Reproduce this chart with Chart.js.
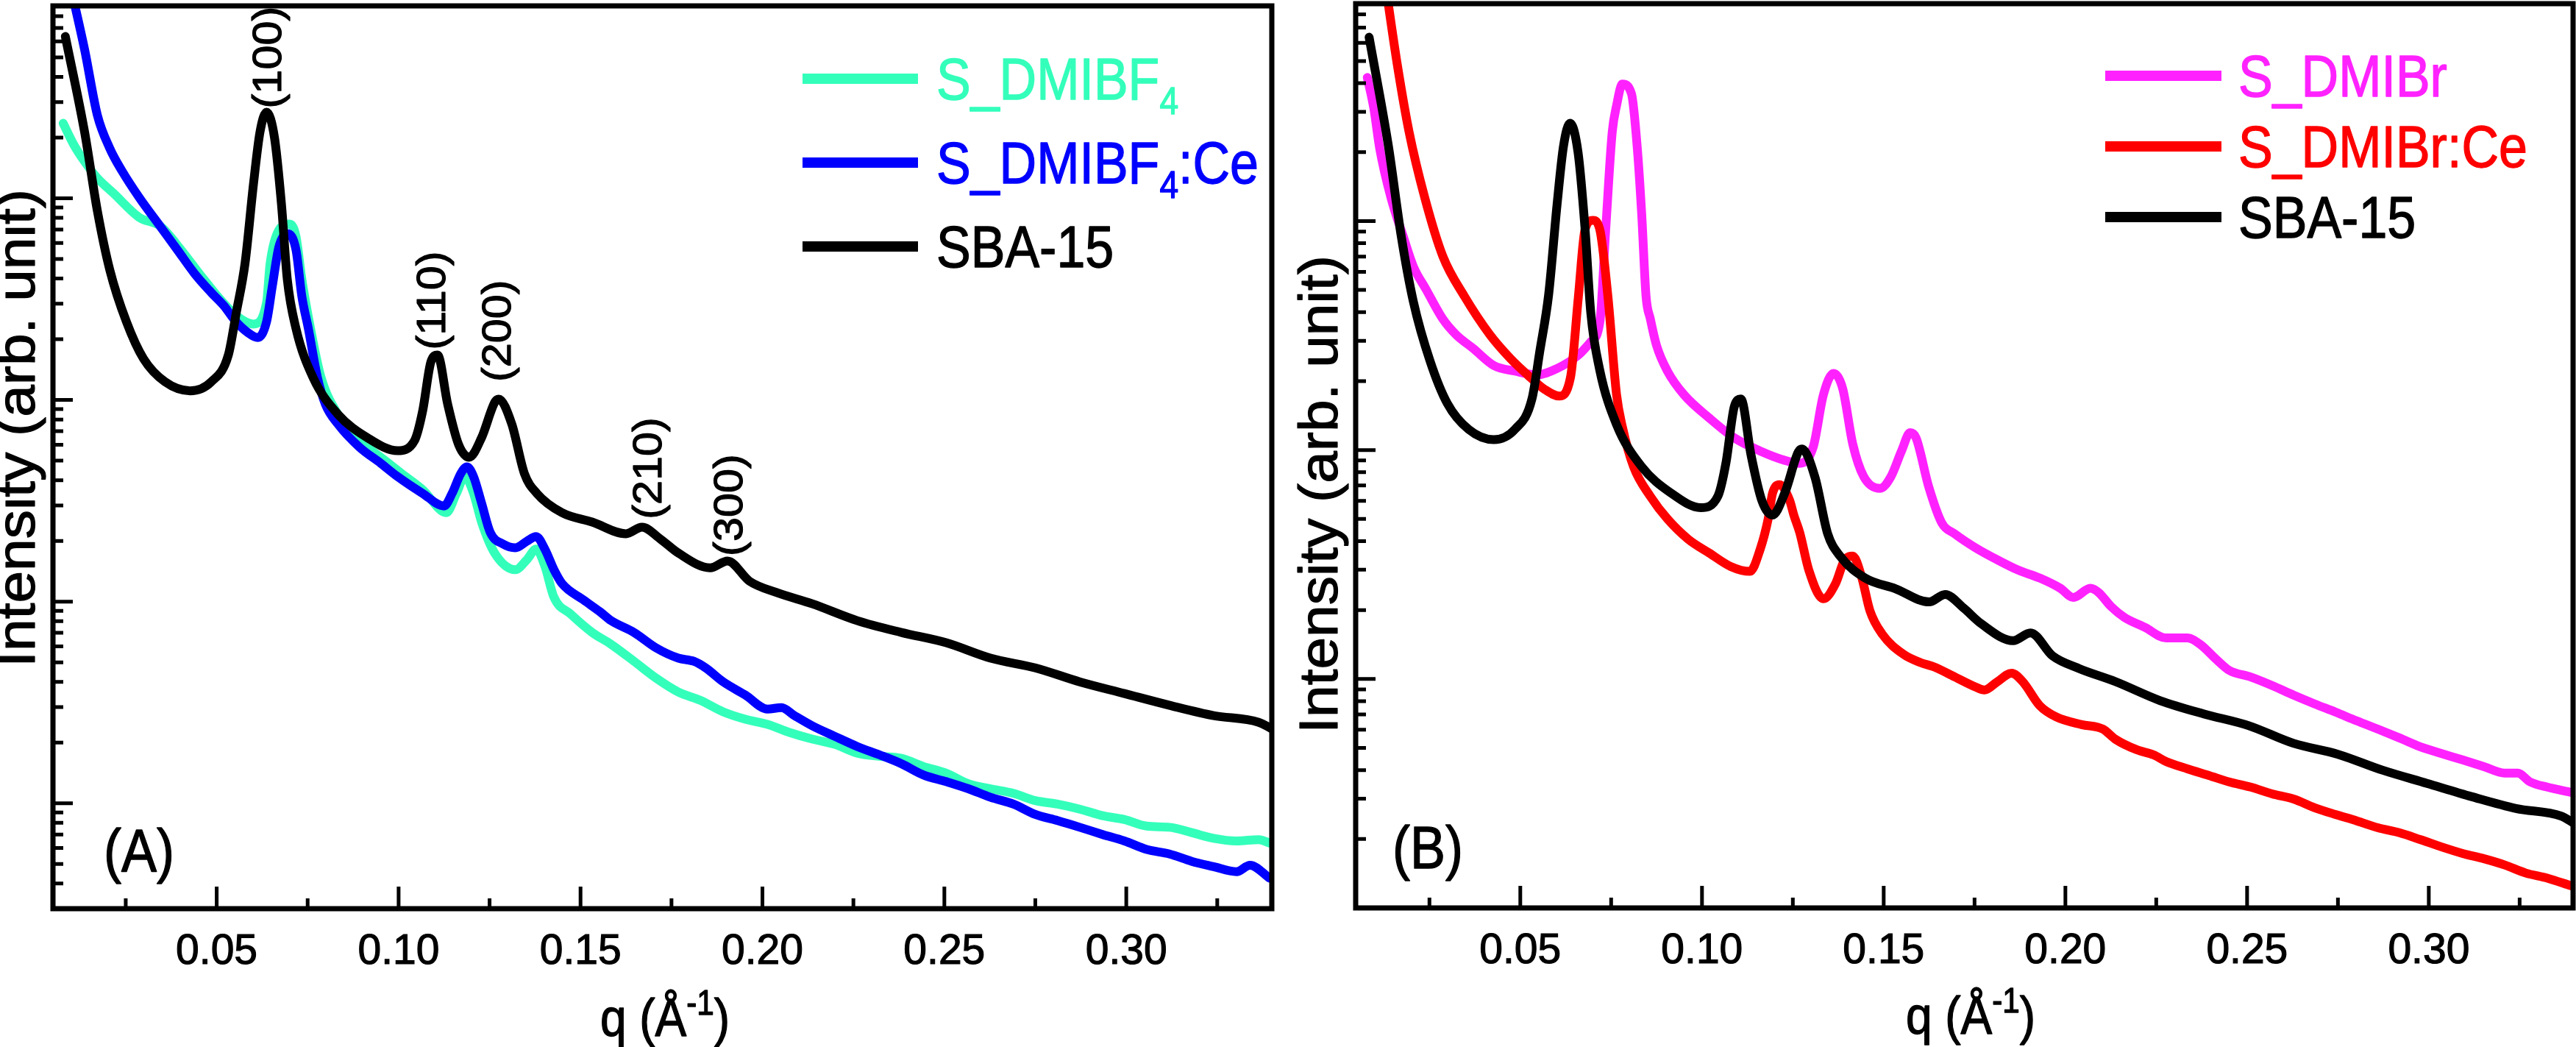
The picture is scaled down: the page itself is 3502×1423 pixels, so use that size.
<!DOCTYPE html>
<html>
<head>
<meta charset="utf-8">
<title>SAXS patterns</title>
<script src="https://cdn.jsdelivr.net/npm/chart.js@4.4.1/dist/chart.umd.min.js"></script>
<style>
  html, body { margin: 0; padding: 0; background: #fff; }
  body { width: 3502px; height: 1423px; position: relative; overflow: hidden; }
  .panel { position: absolute; top: 0; height: 1423px; }
  #boxA { left: 0; width: 1750px; }
  #boxB { left: 1750px; width: 1752px; }
</style>
</head>
<body>
<div class="panel" id="boxA"><canvas id="panelA"></canvas></div>
<div class="panel" id="boxB"><canvas id="panelB"></canvas></div>
<script>
// values: q in 1/A, intensity in arb. units (log axis)

// SBA-15 (same curve in both panels)
const sbaQ = [0.0084, 0.0137, 0.0172, 0.0206, 0.0252, 0.0299, 0.0358, 0.0427, 0.0485, 0.0532,
  0.0554, 0.0578, 0.0601, 0.0619, 0.0637, 0.0659, 0.0678, 0.0694, 0.0718, 0.0765,
  0.0833, 0.0914, 0.0997, 0.1044, 0.1066, 0.1089, 0.1107, 0.1135, 0.1165, 0.1194,
  0.1228, 0.1265, 0.1275, 0.1311, 0.1346, 0.1380, 0.1449, 0.1532, 0.1625, 0.1669,
  0.1720, 0.1769, 0.1856, 0.1904, 0.1965, 0.2038, 0.2137, 0.2261, 0.2382, 0.2505,
  0.2627, 0.2750, 0.2872, 0.2995, 0.3119, 0.3240, 0.3364, 0.3400];
const sbaI = [6350, 2130, 867, 443, 244, 160, 123, 111, 123, 167,
  272, 477, 1173, 2130, 2673, 1992, 935, 397, 226, 129,
  85, 65, 56, 63, 88, 155, 167, 95, 60, 52,
  65, 98, 101, 76, 43, 34.4, 27.6, 24.8, 21.7, 23.4,
  20.4, 17.4, 14.7, 15.9, 12.6, 11.1, 9.75, 8.04, 7.03, 6.25,
  5.24, 4.69, 4.00, 3.50, 3.06, 2.72, 2.52, 2.34];

// S_DMIBF4
const bf4Q = [0.0078, 0.0107, 0.0137, 0.0171, 0.0218, 0.0287, 0.0346, 0.0404, 0.0463, 0.0544,
  0.0601, 0.0637, 0.0647, 0.0671, 0.0700, 0.0718, 0.0734, 0.0758, 0.0787, 0.0833,
  0.0892, 0.0951, 0.1008, 0.1066, 0.1131, 0.1159, 0.1182, 0.1206, 0.1228, 0.1264,
  0.1321, 0.1352, 0.1378, 0.1402, 0.1427, 0.1473, 0.1532, 0.1584, 0.1647, 0.1708,
  0.1769, 0.1829, 0.1892, 0.1953, 0.2014, 0.2076, 0.2137, 0.2198, 0.2261, 0.2321,
  0.2382, 0.2443, 0.2505, 0.2566, 0.2627, 0.2690, 0.2750, 0.2811, 0.2872, 0.2935,
  0.2995, 0.3056, 0.3119, 0.3180, 0.3240, 0.3303, 0.3364, 0.3394];
const bf4I = [2356, 1847, 1521, 1265, 1052, 804, 725, 550, 400, 272,
  238, 303, 477, 697, 745, 646, 397, 226, 129, 85,
  63, 52, 43.2, 35.9, 27.6, 34.4, 41.7, 34.4, 24.8, 17.4,
  14.4, 16.1, 18.2, 15.0, 10.5, 8.67, 7.03, 6.14, 5.06, 4.17,
  3.56, 3.24, 2.84, 2.61, 2.46, 2.24, 2.08, 1.96, 1.77, 1.71,
  1.67, 1.52, 1.41, 1.25, 1.18, 1.12, 1.03, 0.99, 0.935, 0.867,
  0.83, 0.77, 0.76, 0.715, 0.67, 0.65, 0.66, 0.635];

// S_DMIBF4:Ce
const bf4CeQ = [0.0097, 0.0137, 0.0172, 0.0206, 0.0240, 0.0287, 0.0346, 0.0392, 0.0439, 0.0485,
  0.0520, 0.0550, 0.0584, 0.0613, 0.0637, 0.0653, 0.0671, 0.0694, 0.0718, 0.0734,
  0.0752, 0.0777, 0.0799, 0.0833, 0.0892, 0.0951, 0.0997, 0.1066, 0.1125, 0.1147,
  0.1171, 0.1188, 0.1206, 0.1228, 0.1252, 0.1287, 0.1321, 0.1352, 0.1378, 0.1402,
  0.1427, 0.1449, 0.1508, 0.1554, 0.1584, 0.1647, 0.1708, 0.1769, 0.1811, 0.1844,
  0.1892, 0.1953, 0.2014, 0.2052, 0.2088, 0.2137, 0.2198, 0.2261, 0.2321, 0.2382,
  0.2443, 0.2505, 0.2566, 0.2627, 0.2690, 0.2750, 0.2811, 0.2872, 0.2935, 0.2995,
  0.3056, 0.3119, 0.3180, 0.3240, 0.3303, 0.3340, 0.3394];
const bf4CeI = [11500, 5460, 2585, 1771, 1364, 1009, 721, 555, 424, 341,
  293, 248, 217, 204, 244, 368, 574, 668, 555, 327,
  226, 129, 95, 76, 58.4, 48.5, 41.7, 34.4, 29.8, 34.4,
  43.2, 46.6, 41.7, 30.8, 22.0, 19.3, 18.5, 19.9, 21.0, 18.2,
  14.4, 12.3, 10.2, 8.89, 8.04, 7.03, 5.89, 5.24, 5.06, 4.69,
  4.00, 3.44, 2.93, 2.98, 2.72, 2.42, 2.15, 1.91, 1.74, 1.57,
  1.38, 1.28, 1.18, 1.07, 0.99, 0.88, 0.82, 0.76, 0.70, 0.65,
  0.59, 0.56, 0.515, 0.485, 0.458, 0.493, 0.425];

// S_DMIBr
const brQ = [0.0079, 0.0097, 0.0113, 0.0144, 0.0178, 0.0206, 0.0241, 0.0287, 0.0324, 0.0370,
  0.0427, 0.0486, 0.0545, 0.0601, 0.0660, 0.0694, 0.0719, 0.0735, 0.0753, 0.0765,
  0.0781, 0.0806, 0.0822, 0.0834, 0.0846, 0.0858, 0.0875, 0.0905, 0.0951, 0.1020,
  0.1089, 0.1160, 0.1229, 0.1269, 0.1306, 0.1334, 0.1362, 0.1387, 0.1415, 0.1445,
  0.1490, 0.1520, 0.1549, 0.1573, 0.1589, 0.1624, 0.1660, 0.1696, 0.1753, 0.1812,
  0.1870, 0.1929, 0.1986, 0.2022, 0.2069, 0.2091, 0.2126, 0.2162, 0.2219, 0.2277,
  0.2336, 0.2370, 0.2417, 0.2451, 0.2510, 0.2569, 0.2628, 0.2686, 0.2743, 0.2802,
  0.2860, 0.2919, 0.2976, 0.3034, 0.3093, 0.3152, 0.3209, 0.3245, 0.3279, 0.3326,
  0.3391];
const brI = [4236, 3105, 2081, 1267, 856, 632, 502, 373, 318, 278,
  234, 221, 213, 227, 260, 297, 363, 915, 2449, 3199,
  3963, 3597, 2081, 1077, 470, 373, 286, 221, 174, 138,
  113, 99, 90, 87.5, 103, 174, 216, 186, 106, 76.6,
  68, 76.6, 99, 119, 113, 69, 48, 43.0, 37.4, 33.2,
  29.9, 27.6, 24.9, 22.7, 24.9, 23.9, 20.7, 18.6, 16.8, 15.1,
  15.1, 14.2, 12.1, 10.9, 10.2, 9.36, 8.50, 7.78, 7.17, 6.56,
  6.04, 5.53, 5.06, 4.73, 4.43, 4.14, 3.88, 3.88, 3.55, 3.37,
  3.20];

// S_DMIBr:Ce
const brCeQ = [0.0130, 0.0162, 0.0194, 0.0237, 0.0287, 0.0346, 0.0417, 0.0474,
  0.0520, 0.0567, 0.0607, 0.0638, 0.0660, 0.0678, 0.0700, 0.0719, 0.0741, 0.0765,
  0.0781, 0.0812, 0.0858, 0.0905, 0.0962, 0.1020, 0.1079, 0.1132, 0.1160, 0.1182,
  0.1194, 0.1213, 0.1241, 0.1253, 0.1269, 0.1294, 0.1334, 0.1368, 0.1393, 0.1415,
  0.1439, 0.1462, 0.1496, 0.1555, 0.1601, 0.1638, 0.1696, 0.1753, 0.1777, 0.1812,
  0.1852, 0.1883, 0.1929, 0.1976, 0.2045, 0.2103, 0.2138, 0.2196, 0.2243, 0.2277,
  0.2336, 0.2395, 0.2451, 0.2510, 0.2569, 0.2628, 0.2686, 0.2743, 0.2802, 0.2860,
  0.2919, 0.2976, 0.3034, 0.3093, 0.3152, 0.3209, 0.3267, 0.3326, 0.3391];
const brCeI = [10500, 4770, 2449, 1267, 701, 470, 318, 250,
  213, 184, 172, 207, 470, 915, 1007, 915, 470, 174,
  126, 84.3, 62.7, 50, 40.8, 35.5, 31.0, 29.5, 36.8, 49.9,
  64.6, 70.6, 60.4, 51.8, 43.6, 29.9, 22.4, 26.2, 33.2, 34.4,
  28.0, 19.9, 15.7, 12.8, 11.8, 11.3, 10.2, 9.22, 8.95, 9.71,
  10.6, 9.71, 7.66, 6.81, 6.32, 6.04, 5.45, 4.91, 4.66, 4.36,
  4.05, 3.79, 3.55, 3.37, 3.15, 2.99, 2.74, 2.56, 2.40, 2.24,
  2.13, 1.99, 1.85, 1.73, 1.64, 1.54, 1.42, 1.35, 1.25];

// axis ticks
const qTicks = [0.05, 0.10, 0.15, 0.20, 0.25, 0.30];
const qMinorTicks = [0.025, 0.075, 0.125, 0.175, 0.225, 0.275, 0.325];

// reflection labels in panel A: text starts at (q, I) and runs upward
const peakNames = ['(100)', '(110)', '(200)', '(210)', '(300)'];
const peakQ = [0.0645, 0.1097, 0.1277, 0.1690, 0.1914];
const peakI = [2790, 177, 123, 25.6, 16.8];

const FONT = '"Liberation Sans", Arial, Helvetica, sans-serif';
const TALL = 1.13;     // lettering in the figure is a bit taller than Arial
const LONG = 1.06;     // rotated lettering runs a bit longer
const WEIGHT = 1.2;    // light extra stroke so the glyphs are as heavy as in the figure

const layouts = {
  panelA: {
    legend: { x0: 1091, x1: 1248, textX: 1273, rows: [107, 221, 335] },
    yTitle: { x: 27, y: 582 },
    xTitle: { x: 904, y: 1408 },
    tag: { text: '(A)', x: 141, y: 1184 },
    peaks: true
  },
  panelB: {
    legend: { x0: 1112, x1: 1270, textX: 1293, rows: [103, 199, 295] },
    yTitle: { x: 48, y: 672 },
    xTitle: { x: 929, y: 1405 },
    tag: { text: '(B)', x: 143, y: 1180 },
    peaks: false
  }
};

function parseRich(str) {
  const parts = [];
  const re = /<(sub|sup)>(.*?)<\/\1>/g;
  let last = 0, m;
  while ((m = re.exec(str))) {
    if (m.index > last) parts.push({ t: str.slice(last, m.index), kind: '' });
    parts.push({ t: m[2], kind: m[1] });
    last = re.lastIndex;
  }
  if (last < str.length) parts.push({ t: str.slice(last), kind: '' });
  return parts;
}

function drawRich(ctx, str, x, y, size, color, align) {
  const parts = parseRich(str);
  const small = size * 0.66;
  ctx.save();
  ctx.translate(x, y);
  ctx.scale(1, TALL);
  ctx.fillStyle = color;
  ctx.strokeStyle = color;
  ctx.lineWidth = WEIGHT;
  ctx.lineJoin = 'round';
  ctx.textBaseline = 'alphabetic';
  ctx.textAlign = 'left';
  let w = 0;
  parts.forEach(p => {
    ctx.font = `${p.kind ? small : size}px ${FONT}`;
    w += ctx.measureText(p.t).width;
  });
  let cx = align === 'center' ? -w / 2 : 0;
  parts.forEach(p => {
    ctx.font = `${p.kind ? small : size}px ${FONT}`;
    const dy = p.kind === 'sub' ? size * 0.25 : (p.kind === 'sup' ? -size * 0.4 : 0);
    ctx.fillText(p.t, cx, dy);
    ctx.strokeText(p.t, cx, dy);
    cx += ctx.measureText(p.t).width;
  });
  ctx.restore();
}

function drawUpward(ctx, str, x, y, size, align) {
  ctx.save();
  ctx.translate(x, y);
  ctx.rotate(-Math.PI / 2);
  ctx.scale(LONG, 1);
  ctx.font = `${size}px ${FONT}`;
  ctx.fillStyle = '#000';
  ctx.strokeStyle = '#000';
  ctx.lineWidth = WEIGHT;
  ctx.lineJoin = 'round';
  ctx.textAlign = align;
  ctx.textBaseline = 'middle';
  ctx.fillText(str, 0, 0);
  ctx.strokeText(str, 0, 0);
  ctx.restore();
}

const decorPlugin = {
  id: 'decor',
  afterDraw(chart) {
    const L = layouts[chart.canvas.id];
    const { ctx, chartArea: a } = chart;
    const xs = chart.scales.x, ys = chart.scales.y;
    ctx.save();

    // frame
    ctx.strokeStyle = '#000';
    ctx.lineWidth = 7;
    ctx.strokeRect(a.left, a.top, a.right - a.left, a.bottom - a.top);

    // inward ticks
    ctx.lineWidth = 5;
    ctx.beginPath();
    xs.ticks.forEach(t => {
      const px = xs.getPixelForValue(t.value);
      ctx.moveTo(px, a.bottom); ctx.lineTo(px, a.bottom - 30);
    });
    qMinorTicks.forEach(v => {
      const px = xs.getPixelForValue(v);
      ctx.moveTo(px, a.bottom); ctx.lineTo(px, a.bottom - 14);
    });
    ys.ticks.forEach(t => {
      const py = ys.getPixelForValue(t.value);
      if (py < a.top + 3 || py > a.bottom - 3) return;
      const lg = Math.log10(t.value);
      const major = Math.abs(lg - Math.round(lg)) < 1e-6;
      ctx.moveTo(a.left, py); ctx.lineTo(a.left + (major ? 27 : 14), py);
    });
    ctx.stroke();

    // legend
    chart.data.datasets.forEach((ds, k) => {
      const y = L.legend.rows[k];
      ctx.strokeStyle = ds.borderColor;
      ctx.lineWidth = 14;
      ctx.lineCap = 'butt';
      ctx.beginPath();
      ctx.moveTo(L.legend.x0, y); ctx.lineTo(L.legend.x1, y);
      ctx.stroke();
      drawRich(ctx, ds.label, L.legend.textX, y + 0.716 * 70 * TALL / 2, 70, ds.borderColor, 'left');
    });

    // axis titles and panel tag
    drawUpward(ctx, 'Intensity (arb. unit)', L.yTitle.x, L.yTitle.y, 74, 'center');
    drawRich(ctx, 'q (Å<sup>-1</sup>)', L.xTitle.x, L.xTitle.y, 64, '#000', 'center');
    drawRich(ctx, L.tag.text, L.tag.x, L.tag.y, 72, '#000', 'left');

    if (L.peaks) {
      peakNames.forEach((name, k) => {
        drawUpward(ctx, name, xs.getPixelForValue(peakQ[k]), ys.getPixelForValue(peakI[k]), 56, 'left');
      });
    }
    ctx.restore();
  }
};

function series(label, color, qs, is, order) {
  return {
    label,
    data: qs.map((q, k) => ({ x: q, y: is[k] })),
    borderColor: color,
    backgroundColor: color,
    borderWidth: 12,
    pointRadius: 0,
    cubicInterpolationMode: 'monotone',
    borderJoinStyle: 'round',
    borderCapStyle: 'round',
    fill: false,
    order
  };
}

function logTicks(scale) {
  const out = [];
  const e0 = Math.floor(Math.log10(scale.min)), e1 = Math.ceil(Math.log10(scale.max));
  for (let e = e0; e <= e1; e++) {
    for (let m = 1; m <= 9; m++) {
      const v = m * Math.pow(10, e);
      if (v >= scale.min && v <= scale.max) out.push({ value: v });
    }
  }
  scale.ticks = out;
}

function makePanel(id, datasets, qRange, iRange, yWidth, xHeight, pad) {
  return new Chart(document.getElementById(id), {
    type: 'line',
    data: { datasets },
    options: {
      responsive: true,
      maintainAspectRatio: false,
      devicePixelRatio: 1,
      animation: false,
      events: [],
      layout: { padding: pad },
      plugins: { legend: { display: false }, tooltip: { enabled: false } },
      scales: {
        x: {
          type: 'linear',
          min: qRange[0], max: qRange[1],
          grid: { display: false, drawTicks: false },
          border: { display: false },
          afterBuildTicks: s => { s.ticks = qTicks.map(v => ({ value: v })); },
          afterFit: s => { s.height = xHeight; },
          ticks: {
            color: '#000',
            font: { family: FONT, size: 57 },
            textStrokeColor: '#000',
            textStrokeWidth: 1.2,
            padding: 25,
            maxRotation: 0,
            autoSkip: false,
            callback: v => Number(v).toFixed(2)
          }
        },
        y: {
          type: 'logarithmic',
          min: iRange[0], max: iRange[1],
          grid: { display: false, drawTicks: false },
          border: { display: false },
          ticks: { display: false },
          afterBuildTicks: logTicks,
          afterFit: s => { s.width = yWidth; }
        }
      }
    },
    plugins: [decorPlugin]
  });
}

makePanel('panelA', [
  series('S_DMIBF<sub>4</sub>', '#33FFBB', bf4Q, bf4I, 2),
  series('S_DMIBF<sub>4</sub>:Ce', '#0000FF', bf4CeQ, bf4CeI, 1),
  series('SBA-15', '#000000', sbaQ, sbaI, 0)
], [0.005, 0.340], [0.3, 9000], 72, 188, { left: 0, right: 21, top: 8, bottom: 0 });

makePanel('panelB', [
  series('S_DMIBr', '#FF22FF', brQ, brI, 2),
  series('S_DMIBr:Ce', '#FF0000', brCeQ, brCeI, 1),
  series('SBA-15', '#000000', sbaQ, sbaI, 0)
], [0.0047, 0.3397], [1, 8900], 93, 189, { left: 0, right: 4, top: 5, bottom: 0 });
</script>
</body>
</html>
